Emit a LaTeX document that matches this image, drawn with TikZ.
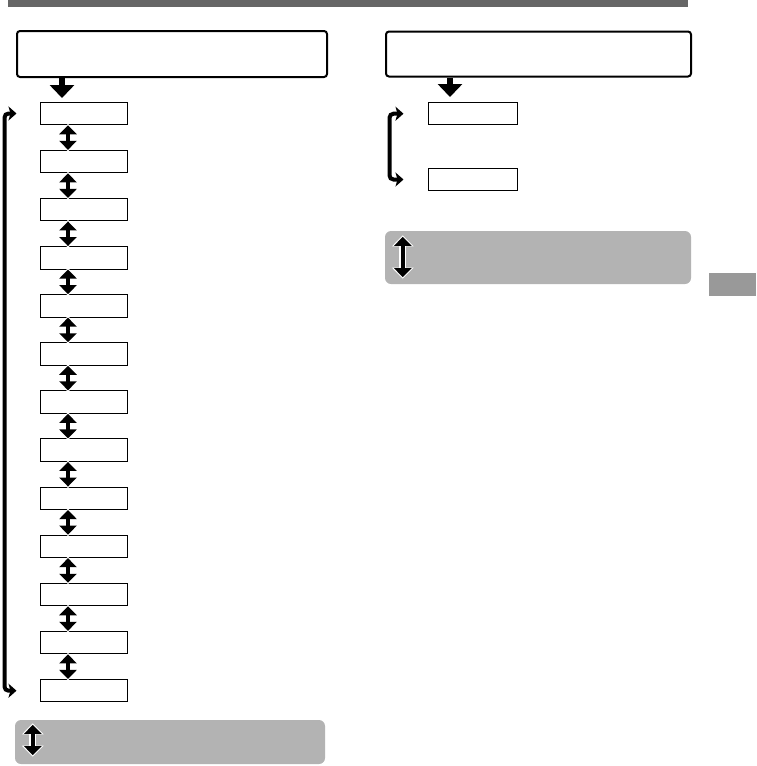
\documentclass[tikz,border=0pt]{standalone}
\usetikzlibrary{arrows.meta,positioning}
\definecolor{bargray}{HTML}{666666}
\definecolor{panelgray}{HTML}{B3B3B3}
\definecolor{tabgray}{HTML}{999999}
\tikzset{
  bigbox/.style={draw,line width=2pt,rounded corners=3pt,inner sep=0pt},
  smallbox/.style={draw,line width=1pt,minimum width=87pt,minimum height=22.5pt,inner sep=0pt},
  panel/.style={fill=panelgray,rounded corners=6pt,inner sep=0pt},
  updown/.style={line width=4pt,{Triangle[width=17pt,length=9pt]}-{Triangle[width=17pt,length=9pt]}},
  halo/.style={preaction={draw=white,line width=7pt,{Triangle[width=21pt,length=11pt]}-{Triangle[width=21pt,length=11pt]},shorten <=-1.5pt,shorten >=-1.5pt}},
  fatdown/.style={line width=6pt,-{Triangle[width=24pt,length=13pt]}},
  loopline/.style={line width=4pt,rounded corners=4pt,{Stealth[width=14pt,length=8pt,inset=2pt]}-{Stealth[width=14pt,length=8pt,inset=2pt]}}
}
\begin{document}
\begin{tikzpicture}[x=1pt,y=-1pt]
  \useasboundingbox (0,0) rectangle (756,766);
  % header bar and side tab
  \fill[bargray] (8,0) rectangle (688,7);
  \fill[tabgray] (709,273) rectangle (756,296);
  % left column
  \node[bigbox,minimum width=310pt,minimum height=46pt] (lhead) at (172,54) {};
  \foreach \i in {1,...,13}
    \node[smallbox] (lb\i) at (83.5,{65.4+48.1*\i}) {};
  \coordinate (ldown) at (62,98);
  \draw[fatdown] (lhead.south -| ldown) -- (ldown);
  \foreach \i [remember=\i as \p (initially 1)] in {2,...,13}
    \draw[updown,halo] ([xshift=-15.5pt]lb\p.south) -- ([xshift=-15.5pt]lb\i.north);
  \coordinate (ltop) at ([xshift=-23pt]lb1.west);
  \coordinate (lbot) at ([xshift=-23pt]lb13.west);
  \draw[loopline] (ltop) -- ++(-12,0) |- (lbot);
  \node[panel,minimum width=310pt,minimum height=44pt] (lpanel) at (170,742) {};
  \draw[updown,halo] ([xshift=18pt,yshift=-5pt]lpanel.north west) -- ([xshift=18pt,yshift=9pt]lpanel.south west);
  % right column
  \node[bigbox,minimum width=305pt,minimum height=45pt] (rhead) at (538.5,54) {};
  \node[smallbox,minimum width=89pt] (rb1) at (472.5,113.7) {};
  \node[smallbox,minimum width=89pt] (rb2) at (472.5,179.5) {};
  \coordinate (rdown) at (450,97);
  \draw[fatdown] (rhead.south -| rdown) -- (rdown);
  \coordinate (rtop) at ([xshift=-24pt]rb1.west);
  \coordinate (rbot) at ([xshift=-24pt]rb2.west);
  \draw[loopline] (rtop) -- ++(-14,0) |- (rbot);
  \node[panel,minimum width=306pt,minimum height=53pt] (rpanel) at (538,257.5) {};
  \draw[updown,halo] ([xshift=18pt,yshift=-6pt]rpanel.north west) -- ([xshift=18pt,yshift=7pt]rpanel.south west);
\end{tikzpicture}
\end{document}
